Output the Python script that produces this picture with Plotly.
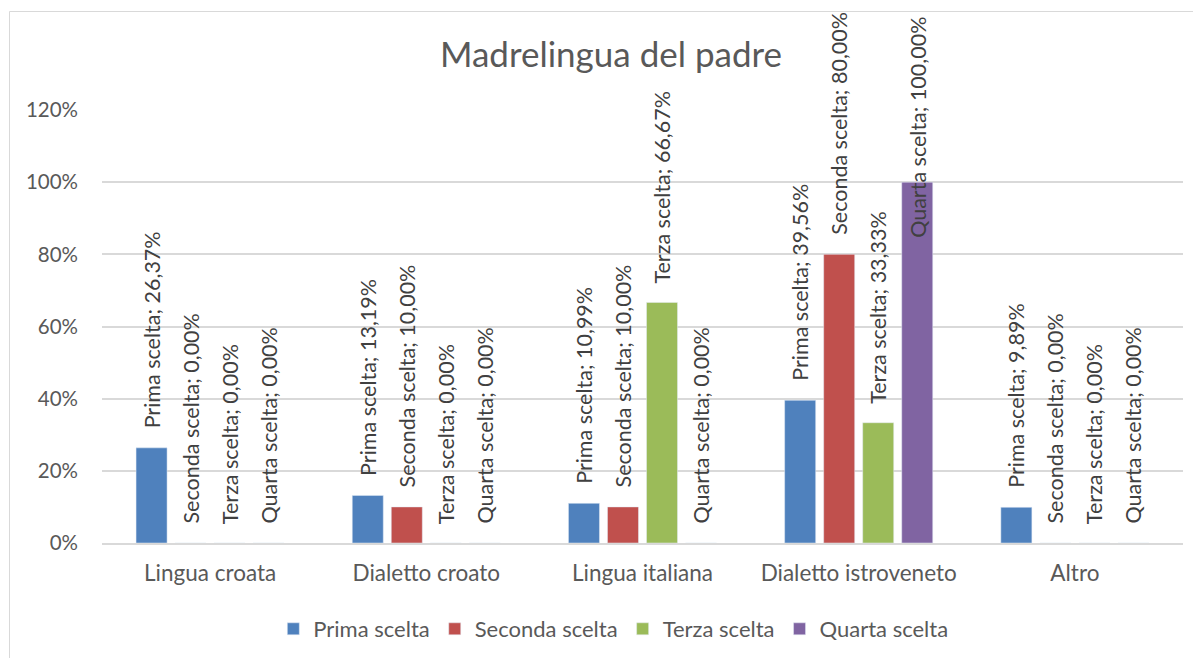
import plotly.graph_objects as go

categories = ["Lingua croata", "Dialetto croato", "Lingua italiana",
              "Dialetto istroveneto", "Altro"]
series_names = ["Prima scelta", "Seconda scelta", "Terza scelta", "Quarta scelta"]
prima = [0.2637, 0.1319, 0.1099, 0.3956, 0.0989]
seconda = [0.0, 0.10, 0.10, 0.80, 0.0]
terza = [0.0, 0.0, 0.6667, 0.3333, 0.0]
quarta = [0.0, 0.0, 0.0, 1.0, 0.0]
y_ticks = [0, 0.2, 0.4, 0.6, 0.8, 1.0, 1.2]

colors = ["#4F81BD", "#C0504D", "#9BBB59", "#8064A2"]
FONT = "Lato"
PAD = "\u00a0" * 3

# page body has an 8px margin, so the figure is 8px smaller and shifted
W, H = 1193, 650
L, T, R, B = 94, 102, 18, 115
PH = H - T - B
PW = W - L - R


def label(name, v):
    return PAD + f"{name}; {v * 100:.2f}%".replace(".", ",")


fig = go.Figure()
for name, vals, col in zip(series_names, [prima, seconda, terza, quarta], colors):
    texts = [label(name, v) for v in vals]
    # the 100% label doesn't fit above its bar, drawn as annotation instead
    pos = ["none" if v >= 1.0 else "outside" for v in vals]
    fig.add_trace(go.Bar(
        x=categories, y=vals, name=name, marker_color=col,
        text=texts, textposition=pos, textangle=-90, constraintext="none",
        textfont=dict(family=FONT, size=21.5, color="#404040"),
        cliponaxis=False,
    ))

for i, v in enumerate(quarta):
    if v >= 1.0:
        fig.add_annotation(
            x=categories[i], y=v, xref="x", yref="y",
            text=f"Quarta scelta; {v * 100:.2f}%".replace(".", ","),
            textangle=-90, showarrow=False, xshift=58.5, yshift=-58,
            yanchor="bottom",
            font=dict(family=FONT, size=21.5, color="#404040"),
        )

# chart border (Excel style)
fig.add_shape(type="rect", xref="paper", yref="paper",
              x0=(1.5 - L) / PW, x1=1.2, y0=-1, y1=1 + (T - 3.5) / PH,
              line=dict(color="#D9D9D9", width=1), layer="below")

fig.update_layout(
    width=W, height=H,
    margin=dict(l=L, r=R, t=T, b=B, autoexpand=False),
    paper_bgcolor="white", plot_bgcolor="white",
    barmode="group", bargap=0.278, bargroupgap=0.205,
    title=dict(text="Madrelingua del padre", x=(611 - 8) / W, xanchor="center",
               y=1 - 47 / H, yanchor="middle",
               font=dict(family=FONT, size=35, color="#595959")),
    font=dict(family=FONT, color="#595959"),
    showlegend=True,
    legend=dict(orientation="h", x=0.473, xanchor="center",
                y=-(621 - (T + PH)) / PH, yanchor="middle",
                font=dict(family=FONT, size=22, color="#595959")),
)
fig.update_yaxes(range=[0, 1.2], tickvals=y_ticks, tickformat=".0%",
                 showgrid=True, gridcolor="#D9D9D9", gridwidth=1.5,
                 zeroline=False, showline=False, ticks="",
                 tickfont=dict(family=FONT, size=20.5, color="#595959"),
                 ticklabelstandoff=23)
fig.update_xaxes(showline=True, linecolor="#D9D9D9", linewidth=1.5,
                 ticks="", tickfont=dict(family=FONT, size=22.5, color="#595959"),
                 ticklabelstandoff=9)

fig.write_html("out.html")
